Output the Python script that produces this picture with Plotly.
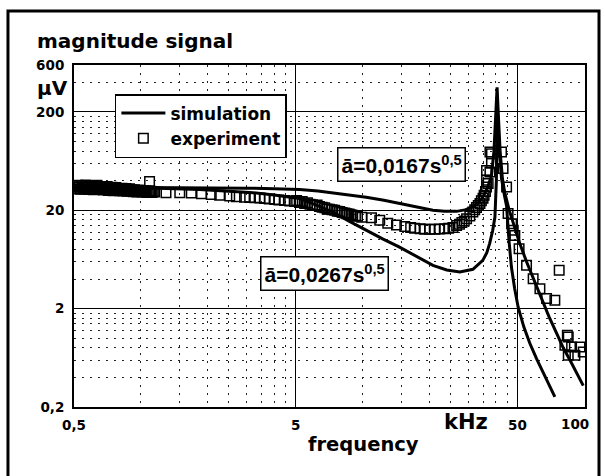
import math
import plotly.graph_objects as go

# ---------------- data ----------------
sim_a_freq = [0.5, 0.8, 1.2, 2.0, 3.0, 4.0, 5.2, 6.3, 7.5, 9.0, 10.4, 12.5, 14.7, 17.5, 20.8, 23.5,
              26.6, 29.0, 31.5, 33.3, 34.9, 36.6, 38.2, 39.2, 39.9, 40.5, 41.1, 41.8, 42.8, 43.9,
              45.8, 47.9, 51.0, 55.0, 59.5, 64.3, 69.5, 75.2, 80.5, 86.3, 92.5, 99.1]
sim_a_mag = [34.5, 34.4, 34.2, 34.0, 33.6, 33.2, 32.5, 31.4, 30.0, 28.6, 27.2, 25.3, 23.5, 21.6, 20.0, 19.6,
             19.5, 20.2, 21.6, 23.8, 27.2, 33.5, 45.0, 80.0, 170.0, 355.0, 170.0, 80.0, 42.0, 30.0,
             20.5, 15.0, 9.5, 6.0, 3.9, 2.5, 1.65, 1.12, 0.80, 0.60, 0.44, 0.33]

sim_b_freq = [0.5, 0.8, 1.2, 1.84, 2.5, 3.1, 4.0, 5.2, 6.2, 7.35, 8.7, 10.4, 12.4, 14.7, 17.5, 20.8,
              24.0, 27.5, 31.5, 34.9, 36.4, 37.5, 38.7, 39.6, 40.2, 40.6, 41.0, 41.6, 42.4, 43.5,
              44.7, 45.8, 47.0, 48.6, 50.4, 53.5, 56.9, 61.0, 65.4, 69.5, 73.8]
sim_b_mag = [34.2, 34.0, 33.5, 32.6, 31.5, 30.4, 28.6, 26.4, 22.6, 19.2, 15.5, 12.5, 10.2, 8.45, 6.8, 5.5,
             4.95, 4.71, 5.02, 6.19, 7.4, 9.2, 12.5, 17.1, 40.0, 250.0, 110.0, 65.0, 42.0, 30.0,
             22.0, 10.0, 5.3, 3.2, 2.07, 1.3, 0.89, 0.62, 0.44, 0.33, 0.253]

exp_freq = [0.503, 0.510, 0.515, 0.522, 0.529, 0.536, 0.543, 0.550, 0.558, 0.565, 0.572, 0.580, 0.587,
            0.595, 0.603, 0.611, 0.619, 0.627, 0.635, 0.643, 0.652, 0.660, 0.669, 0.678, 0.687, 0.696,
            0.705, 0.714, 0.723, 0.732, 0.742, 0.752, 0.762, 0.772, 0.782, 0.792, 0.802, 0.812, 0.823,
            0.834, 0.845, 0.856, 0.867, 0.878, 0.890, 0.902, 0.914, 0.926, 0.938, 0.950, 0.962, 0.975,
            0.988, 1.001, 1.014, 1.027, 1.041, 1.054, 1.068, 1.082, 1.096, 1.096, 1.110, 1.125, 1.140,
            1.155,
            1.30, 1.50, 1.69, 1.88, 2.08, 2.27, 2.52, 2.70, 2.94, 3.10, 3.27, 3.45, 3.62, 3.80, 4.02,
            4.20, 4.46, 4.70, 4.95, 5.05, 5.20, 5.35, 5.49, 5.65, 5.80, 5.95, 6.09, 6.25, 6.40, 6.58,
            6.76, 6.93, 7.10, 7.30, 7.50, 7.70, 7.90, 8.10, 8.32, 8.50, 8.70, 8.87, 9.04, 9.30, 9.50,
            9.93, 10.99, 11.97, 13.01, 14.24, 15.53, 16.5, 17.2, 18.2, 19.1, 20.1, 21.2, 22.3, 23.5,
            24.5, 25.6, 26.6, 27.4, 28.1, 28.8, 29.5, 30.5, 31.5, 32.1, 32.7, 33.3, 33.9, 34.4, 35.0,
            35.4, 35.9, 36.3, 36.3, 36.9, 36.3, 37.6, 37.6, 38.2, 38.2,
            42.4, 43.1, 44.7, 45.4, 47.1, 47.9, 48.7, 50.9, 55.0, 58.9, 63.2, 67.7, 73.8, 77.2, 84.0,
            84.8, 81.9, 87.8, 95.8, 99.1, 90.9, 84.8]
exp_mag = [34.2, 35.5, 33.0, 36.0, 34.5, 32.8, 35.8, 34.0, 33.0, 36.2, 34.6, 32.6, 35.0,
           33.6, 34.8, 32.4, 35.4, 33.0, 36.0, 34.0, 32.8, 35.0, 33.8, 32.2, 34.6, 33.0,
           35.0, 31.8, 33.8, 32.4, 34.2, 31.6, 33.0, 34.0, 32.0, 33.4, 31.6, 32.8, 33.6,
           31.4, 32.6, 33.4, 31.2, 32.4, 33.2, 31.2, 32.2, 30.8, 32.4, 31.6, 30.6, 32.2,
           31.0, 31.8, 30.6, 31.6, 30.8, 31.6, 30.4, 31.4, 39.3, 30.6, 31.2, 30.4, 31.0,
           30.6,
           30.2, 30.2, 29.9, 29.5, 29.0, 28.5, 28.0, 27.5, 27.2, 27.0, 26.8, 26.6, 26.4, 26.1, 25.8,
           25.5, 25.2, 24.8, 24.5, 25.2, 24.0, 24.6, 23.5, 23.8, 23.0, 22.8, 22.4, 22.6, 21.8, 21.5,
           21.2, 20.6, 20.5, 20.2, 20.0, 19.6, 19.4, 19.0, 18.8, 18.4, 18.3, 18.0, 17.8, 17.6, 17.4,
           17.0, 16.8, 15.8, 14.8, 14.2, 13.7, 13.4, 13.1, 13.0, 12.8, 12.8, 12.8, 12.9, 13.0,
           13.1, 13.4, 14.0, 14.4, 15.0, 15.6, 16.4, 17.5, 19.2, 20.2, 21.4, 22.4, 23.5, 25.0, 26.5,
           28.5, 31.0, 34.4, 40.3, 37.5, 50.9, 48.9, 78.1, 75.2, 60.0,
           78.1, 53.3, 34.4, 18.6, 14.6, 12.5, 11.1, 8.14, 5.51, 4.03, 3.19, 2.53, 2.43, 4.90, 1.07,
           1.03, 0.847, 0.815, 0.815, 0.724, 0.670, 0.670]

x_major = [0.5, 5, 50]
x_major_text = ["0,5", "5", "50"]
x_last_tick = 100
x_last_text = "100"
x_minor = [1, 1.5, 2, 2.5, 3, 3.5, 4, 4.5, 10, 15, 20, 25, 30, 35, 40, 45]
y_major = [0.2, 2, 20, 200, 600]
y_major_text = ["0,2", "2", "20", "200", "600"]
y_minor = [0.4, 0.6, 0.8, 1, 1.2, 1.4, 1.6, 1.8, 4, 6, 8, 10, 12, 14, 16, 18,
           40, 60, 80, 100, 120, 140, 160, 180, 400]

FONT = "DejaVu Sans"
DOTS = "2px,6px"

fig = go.Figure()
fig.add_trace(go.Scatter(
    x=exp_freq, y=exp_mag, mode="markers", name="experiment", legendrank=2,
    marker=dict(symbol="square-open", size=9.5, color="black", line=dict(width=1.5, color="black"))))
fig.add_trace(go.Scatter(
    x=sim_a_freq, y=sim_a_mag, mode="lines", name="simulation", legendrank=1,
    line=dict(color="black", width=3)))
fig.add_trace(go.Scatter(
    x=sim_b_freq, y=sim_b_mag, mode="lines", name="simulation b", showlegend=False,
    line=dict(color="black", width=3)))

fig.update_layout(
    width=605, height=476,
    margin=dict(l=74, r=20, t=65, b=69, autoexpand=False),
    paper_bgcolor="white", plot_bgcolor="white",
    font=dict(family=FONT, color="black", weight="bold"),
    showlegend=True,
    legend=dict(x=0.08, y=0.915, xanchor="left", yanchor="top",
                bgcolor="white", bordercolor="black", borderwidth=1.5,
                font=dict(size=17, family=FONT, weight="bold"),
                tracegroupgap=0, itemwidth=44),
    xaxis=dict(type="log", range=[-0.30103, 2.004], automargin=False,
               tickmode="array", tickvals=x_major, ticktext=x_major_text,
               tickfont=dict(size=13.5, family=FONT, weight="bold"),
               ticks="", ticklabelstandoff=5,
               showgrid=True, gridcolor="black", gridwidth=1.3,
               showline=True, linecolor="black", linewidth=2, mirror=True,
               zeroline=False,
               minor=dict(tickmode="array", tickvals=x_minor, showgrid=True,
                          gridcolor="#222222", gridwidth=1.4, griddash=DOTS, ticks="")),
    yaxis=dict(type="log", range=[-0.69897, 2.7782], automargin=False,
               tickmode="array", tickvals=y_major, ticktext=y_major_text,
               tickfont=dict(size=13.5, family=FONT, weight="bold"),
               ticks="", ticklabelstandoff=5, ticklabeloverflow="allow",
               showgrid=True, gridcolor="black", gridwidth=1.3,
               showline=True, linecolor="black", linewidth=2, mirror=True,
               zeroline=False,
               minor=dict(tickmode="array", tickvals=y_minor, showgrid=True,
                          gridcolor="#222222", gridwidth=1.4, griddash=DOTS, ticks="")),
)

# last x tick label (sits slightly left of the plot edge in the original)
fig.add_annotation(text=x_last_text, xref="x", yref="paper", x=math.log10(x_last_tick), y=-0.05,
                   xanchor="center", yanchor="middle", xshift=-9, showarrow=False,
                   font=dict(size=13.5, family=FONT, weight="bold"))

fig.add_annotation(text="magnitude signal", xref="paper", yref="paper", x=-0.0763, y=1.070,
                   xanchor="left", yanchor="middle", showarrow=False,
                   font=dict(size=20, family=FONT, weight="bold"))
fig.add_annotation(text="\u00b5V", xref="paper", yref="paper", x=-0.042, y=0.933,
                   xanchor="center", yanchor="middle", showarrow=False,
                   font=dict(size=20, family=FONT, weight="bold"))
fig.add_annotation(text="kHz", xref="paper", yref="paper", x=0.767, y=-0.044,
                   xanchor="center", yanchor="middle", showarrow=False,
                   font=dict(size=21, family=FONT, weight="bold"))
fig.add_annotation(text="frequency", xref="paper", yref="paper", x=0.5675, y=-0.111,
                   xanchor="center", yanchor="middle", showarrow=False,
                   font=dict(size=19.5, family=FONT, weight="bold"))
fig.add_annotation(text="\u0101=0,0167s<sup>0,5</sup>", xref="paper", yref="paper", x=0.640, y=0.709,
                   xanchor="center", yanchor="middle", showarrow=False,
                   bgcolor="white", bordercolor="black", borderwidth=1.5, borderpad=3,
                   font=dict(size=21, family="Liberation Sans", weight="bold"))
fig.add_annotation(text="\u0101=0,0267s<sup>0,5</sup>", xref="paper", yref="paper", x=0.491, y=0.389,
                   xanchor="center", yanchor="middle", showarrow=False,
                   bgcolor="white", bordercolor="black", borderwidth=1.5, borderpad=3,
                   font=dict(size=21, family="Liberation Sans", weight="bold"))

# outer frame of the figure
fig.add_shape(type="rect", xref="paper", yref="paper", x0=-0.1292, x1=1.0274, y0=-0.3, y1=1.158,
              line=dict(color="black", width=3), layer="below")

fig.write_html("out.html")
